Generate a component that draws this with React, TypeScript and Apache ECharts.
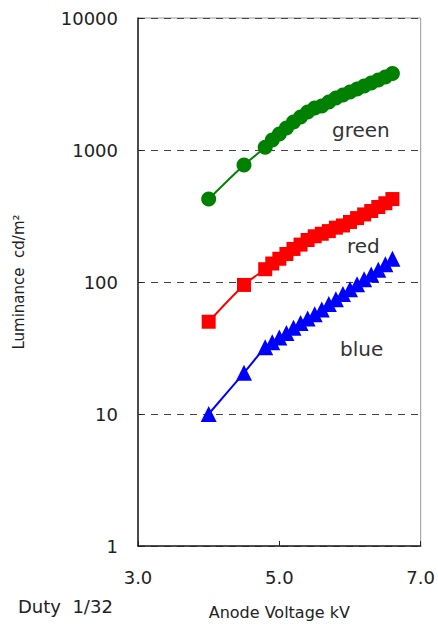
import React, { useEffect, useRef } from "react";
import * as echarts from "echarts";

const voltages = [4.0, 4.5, 4.8, 4.9, 5.0, 5.1, 5.2, 5.3, 5.4, 5.5, 5.6, 5.7, 5.8, 5.9, 6.0, 6.1, 6.2, 6.3, 6.4, 6.5, 6.6];
const greenValues = [425, 770, 1050, 1190, 1320, 1470, 1630, 1780, 1940, 2080, 2150, 2310, 2480, 2610, 2750, 2900, 3050, 3220, 3390, 3570, 3800];
const redValues = [50, 95, 125, 138, 150, 163, 178, 192, 208, 222, 232, 243, 258, 268, 285, 305, 325, 345, 370, 395, 425];
const blueValues = [10, 20.5, 32, 35, 38, 41, 45, 49, 53, 57, 62, 68, 74, 81, 88, 96, 105, 114, 124, 136, 150];
const yTicks = [1, 10, 100, 1000, 10000];
const xTicks = [3.0, 5.0, 7.0];

const FONT = "DejaVu Sans";

export default function App() {
  const ref = useRef<HTMLDivElement>(null);
  useEffect(() => {
    if (!ref.current) return;
    const chart = echarts.init(ref.current, undefined, { renderer: "svg" });
    const mk = (vals: number[]) => voltages.map((v, i) => [v, vals[i]]);
    chart.setOption({
      animation: false,
      backgroundColor: "#ffffff",
      grid: { left: 138, right: 14, top: 18, bottom: 80, show: true, borderColor: "#999", borderWidth: 1 },
      xAxis: {
        type: "value",
        min: xTicks[0],
        max: xTicks[xTicks.length - 1],
        interval: 2,
        name: "Anode Voltage kV",
        nameLocation: "middle",
        nameGap: 58,
        nameTextStyle: { fontFamily: FONT, fontSize: 16, color: "#222" },
        axisLine: { lineStyle: { color: "#222", width: 1.5 } },
        axisTick: { inside: true, length: 5, lineStyle: { color: "#222" } },
        axisLabel: { fontFamily: FONT, fontSize: 18, color: "#222", margin: 22, formatter: (v: number) => v.toFixed(1) },
        splitLine: { show: false },
      },
      yAxis: {
        type: "log",
        logBase: 10,
        min: yTicks[0],
        max: yTicks[yTicks.length - 1],
        name: "Luminance  cd/m²",
        nameLocation: "middle",
        nameGap: 112,
        nameTextStyle: { fontFamily: FONT, fontSize: 15, color: "#222" },
        axisLine: { lineStyle: { color: "#222", width: 1.5 } },
        axisTick: { inside: true, length: 5, lineStyle: { color: "#222" } },
        axisLabel: { fontFamily: FONT, fontSize: 18, color: "#222", margin: 20, formatter: (v: number) => String(v) },
        splitLine: { show: true, lineStyle: { color: "#444", type: [7, 6], width: 1 } },
      },
      series: [
        {
          type: "line",
          data: mk(greenValues),
          smooth: 0.3,
          symbol: "circle",
          symbolSize: 15,
          itemStyle: { color: "#008000" },
          lineStyle: { color: "#008000", width: 2 },
        },
        {
          type: "line",
          data: mk(redValues),
          smooth: 0.3,
          symbol: "rect",
          symbolSize: 14,
          itemStyle: { color: "#ff0000" },
          lineStyle: { color: "#ff0000", width: 2 },
        },
        {
          type: "line",
          data: mk(blueValues),
          smooth: 0.3,
          symbol: "triangle",
          symbolSize: 16,
          itemStyle: { color: "#0000ff" },
          lineStyle: { color: "#0000ff", width: 2 },
        },
      ],
      graphic: [
        { type: "text", left: 332, top: 120, style: { text: "green", fontFamily: FONT, fontSize: 20, fill: "#333" } },
        { type: "text", left: 347, top: 236, style: { text: "red", fontFamily: FONT, fontSize: 20, fill: "#333" } },
        { type: "text", left: 340, top: 339, style: { text: "blue", fontFamily: FONT, fontSize: 20, fill: "#333" } },
        { type: "text", left: 18, top: 597, style: { text: "Duty  1/32", fontFamily: FONT, fontSize: 18, fill: "#222" } },
      ],
    });
    return () => chart.dispose();
  }, []);
  return <div ref={ref} style={{ width: 438, height: 626, position: "absolute", left: 0, top: 0 }} />;
}
